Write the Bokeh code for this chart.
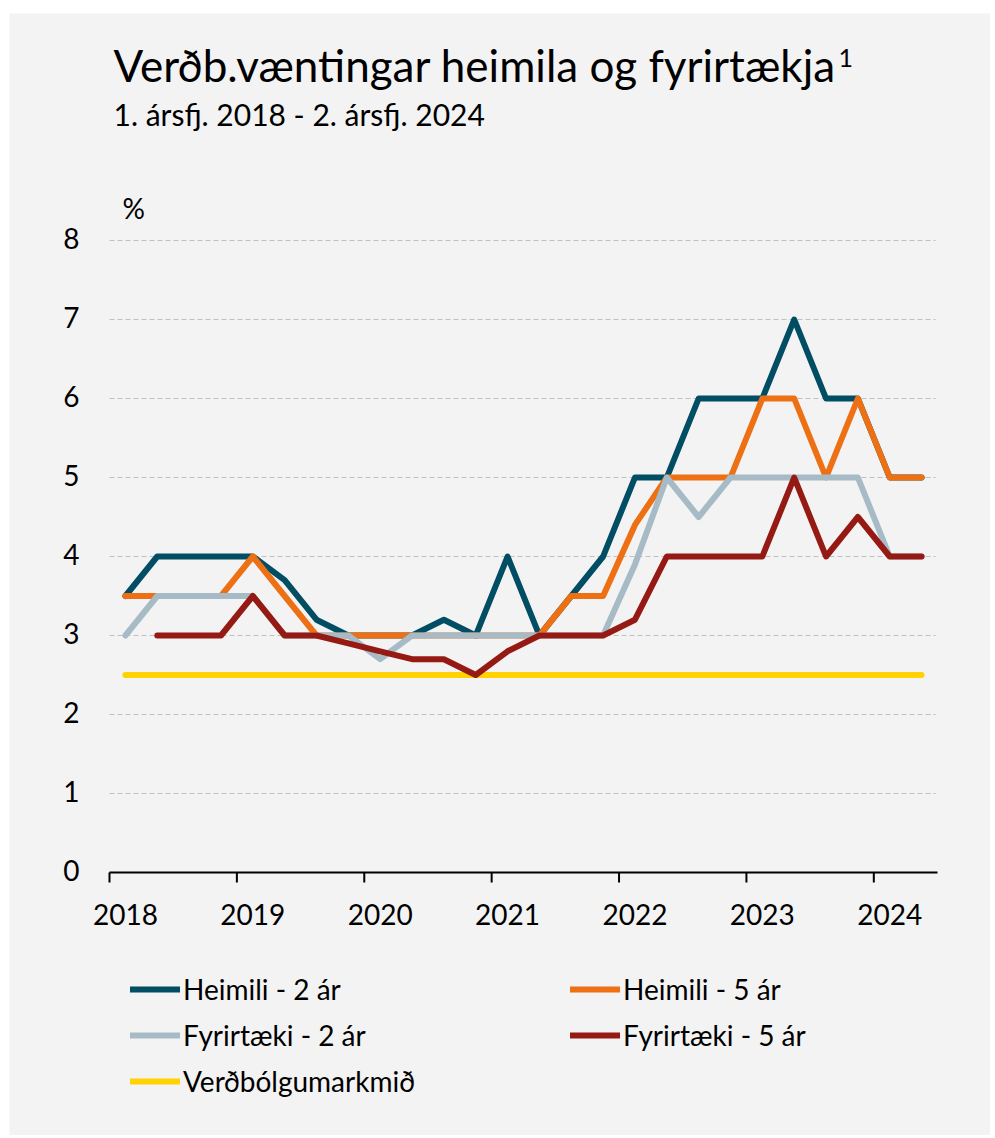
import math
from bokeh.plotting import figure
from bokeh.models import (ColumnDataSource, Legend, LegendItem, Range1d, Label)
from bokeh.core.properties import value
from bokeh.embed import file_html
from bokeh.resources import INLINE

# ---------------- data ----------------
years = [2018, 2019, 2020, 2021, 2022, 2023, 2024]
quarter_numbers = [1, 2, 3, 4]
n_quarters = 26  # 1. ársfj. 2018 - 2. ársfj. 2024

heimili_2 = [3.5, 4.0, 4.0, 4.0, 4.0, 3.7, 3.2, 3.0, 3.0, 3.0, 3.2, 3.0, 4.0,
             3.0, 3.5, 4.0, 5.0, 5.0, 6.0, 6.0, 6.0, 7.0, 6.0, 6.0, 5.0, 5.0]
heimili_5 = [3.5, 3.5, 3.5, 3.5, 4.0, 3.5, 3.0, 3.0, 3.0, 3.0, 3.0, 3.0, 3.0,
             3.0, 3.5, 3.5, 4.4, 5.0, 5.0, 5.0, 6.0, 6.0, 5.0, 6.0, 5.0, 5.0]
fyrirtaeki_2 = [3.0, 3.5, 3.5, 3.5, 3.5, 3.0, 3.0, 3.0, 2.7, 3.0, 3.0, 3.0, 3.0,
                3.0, 3.0, 3.0, 3.9, 5.0, 4.5, 5.0, 5.0, 5.0, 5.0, 5.0, 4.0, 4.0]
fyrirtaeki_5 = [math.nan, 3.0, 3.0, 3.0, 3.5, 3.0, 3.0, 2.9, 2.8, 2.7, 2.7, 2.5, 2.8,
                3.0, 3.0, 3.0, 3.2, 4.0, 4.0, 4.0, 4.0, 5.0, 4.0, 4.5, 4.0, 4.0]
markmid = [2.5] * n_quarters

y_ticks = [0, 1, 2, 3, 4, 5, 6, 7, 8]
y_tick_labels = ["0", "1", "2", "3", "4", "5", "6", "7", "8"]
year_labels = ["2018", "2019", "2020", "2021", "2022", "2023", "2024"]

series_labels = ["Heimili - 2 ár", "Heimili - 5 ár", "Fyrirtæki - 2 ár",
                 "Fyrirtæki - 5 ár", "Verðbólgumarkmið"]

title_text = "Verðb.væntingar heimila og fyrirtækja"
footnote_mark = "1"
subtitle_text = "1. ársfj. 2018 - 2. ársfj. 2024"
unit_text = "%"

# quarter mid-points on a continuous year axis
quarters = [(y, q) for y in years for q in quarter_numbers][:n_quarters]
xq = [y + (q - 0.5) / 4 for y, q in quarters]

src = ColumnDataSource(dict(x=xq, h2=heimili_2, h5=heimili_5, f2=fyrirtaeki_2,
                            f5=fyrirtaeki_5, m=markmid))

# ---------------- layout / style ----------------
BG = "#f3f3f3"
C_BLUE = "#014d64"
C_ORANGE = "#ee7014"
C_GREY = "#a7bbc7"
C_RED = "#961a14"
C_YELLOW = "#ffd200"
FONT = "Lato"
LW = 6

FIG_W, FIG_H = 981, 1122
AXIS_LEFT_PX = 100      # x = 2018 from figure left
AXIS_RIGHT_PX = 928     # x = 2024.5 from figure left
PLOT_TOP_PX = 227       # y = 8 from figure top
PLOT_H_PX = 632         # y = 0 .. 8
X0, X1 = 2018, 2024.5
Y_MIN, Y_MAX = 0, 8

ppx = (AXIS_RIGHT_PX - AXIS_LEFT_PX) / (X1 - X0)      # pixels per year
x_start = X0 - AXIS_LEFT_PX / ppx
x_end = X1 + (FIG_W - AXIS_RIGHT_PX) / ppx
upp = (Y_MAX - Y_MIN) / PLOT_H_PX                     # y units per pixel
BOTTOM_PX = FIG_H - PLOT_TOP_PX - PLOT_H_PX
y_start = Y_MIN - BOTTOM_PX * upp
y_end = Y_MAX + PLOT_TOP_PX * upp

p = figure(width=FIG_W, height=FIG_H,
           x_range=Range1d(x_start, x_end), y_range=Range1d(y_start, y_end),
           output_backend="svg", toolbar_location=None,
           min_border_left=0, min_border_right=0,
           min_border_top=0, min_border_bottom=0,
           background_fill_color=BG, border_fill_color=BG,
           outline_line_color=None)
p.margin = (13, 5, 3, 9)
p.xaxis.visible = False
p.yaxis.visible = False
p.xgrid.grid_line_color = None
p.ygrid.grid_line_color = None

# horizontal dashed gridlines between the axis ends
grid_y = y_ticks[1:]
p.segment(x0=[X0] * len(grid_y), y0=grid_y, x1=[X1 - 0.015] * len(grid_y), y1=grid_y,
          line_color="#c0c0c0", line_width=1, line_dash="5 3")

# y tick labels
p.text(x=[X0] * len(y_ticks), y=y_ticks, text=y_tick_labels,
       text_align="right", text_baseline="alphabetic", x_offset=-30, y_offset=-2,
       text_font=value(FONT), text_font_size="28px", text_color="black")

# x axis line, ticks at year boundaries, labels centred on first quarter
p.segment(x0=[X0], y0=[0], x1=[X1], y1=[0], line_color="black", line_width=2)
tick_len = 10 * upp
p.segment(x0=years, y0=[0] * len(years), x1=years, y1=[-tick_len] * len(years),
          line_color="black", line_width=2)
label_pos = [y + 0.125 for y in years]
p.text(x=label_pos, y=[0] * len(years), text=year_labels,
       text_align="center", text_baseline="alphabetic", y_offset=42,
       text_font=value(FONT), text_font_size="28px", text_color="black")

common = dict(source=src, line_width=LW, line_join="round", line_cap="round")
r_m = p.line("x", "m", line_color=C_YELLOW, **common)
r_h2 = p.line("x", "h2", line_color=C_BLUE, **common)
r_h5 = p.line("x", "h5", line_color=C_ORANGE, **common)
r_f2 = p.line("x", "f2", line_color=C_GREY, **common)
r_f5 = p.line("x", "f5", line_color=C_RED, **common)

leg_kw = dict(orientation="vertical", glyph_width=50, glyph_height=34,
              label_height=34, label_standoff=3, spacing=12, padding=0,
              margin=0, border_line_color=None, background_fill_alpha=0,
              label_text_font=FONT, label_text_font_size="28px",
              label_text_color="black")
leg1 = Legend(items=[LegendItem(label=series_labels[0], renderers=[r_h2]),
                     LegendItem(label=series_labels[2], renderers=[r_f2]),
                     LegendItem(label=series_labels[4], renderers=[r_m])],
              location=(121, 37), **leg_kw)
leg2 = Legend(items=[LegendItem(label=series_labels[1], renderers=[r_h5]),
                     LegendItem(label=series_labels[3], renderers=[r_f5])],
              location=(561, 83), **leg_kw)
p.add_layout(leg1)
p.add_layout(leg2)

# texts (screen units relative to figure bottom-left)
def txt(x_from_left, y_from_top, text, size):
    p.add_layout(Label(x=x_from_left, y=FIG_H - y_from_top,
                       x_units="screen", y_units="screen",
                       text=text, text_font=FONT, text_font_size=size,
                       text_baseline="alphabetic", text_color="black"))

txt(104, 51, title_text, "44px")
txt(829, 44, footnote_mark, "25px")
txt(104, 100, subtitle_text, "30px")
txt(113, 194, unit_text, "28px")

open("out.html", "w").write(file_html(p, INLINE))
